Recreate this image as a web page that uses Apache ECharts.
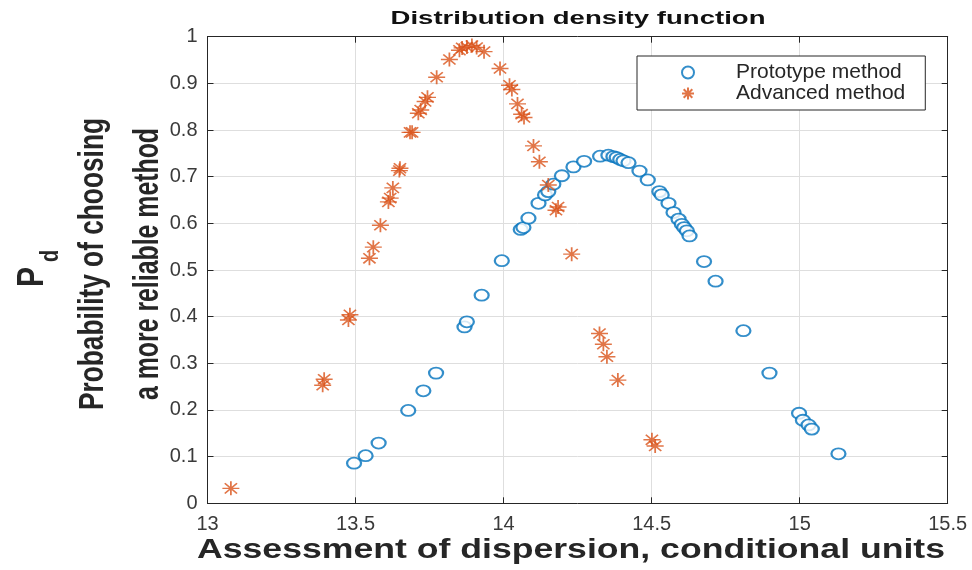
<!DOCTYPE html>
<html>
<head>
<meta charset="utf-8">
<script src="https://cdn.jsdelivr.net/npm/echarts@6/dist/echarts.min.js"></script>
<style>
html,body{margin:0;padding:0;background:#fff;}
#chart{width:972px;height:570px;}
</style>
</head>
<body>
<div id="chart"></div>
<script>
// ---- data ----
var protoX = [13.495, 13.534, 13.578, 13.678, 13.729, 13.772, 13.868, 13.876, 13.926, 13.994,
  14.058, 14.067, 14.084, 14.118, 14.140, 14.151, 14.168, 14.197, 14.236, 14.272,
  14.326, 14.354, 14.371, 14.382, 14.394, 14.405, 14.422, 14.459, 14.487, 14.526,
  14.534, 14.557, 14.574, 14.591, 14.602, 14.610, 14.619, 14.628, 14.677, 14.716,
  14.810, 14.898, 14.998, 15.011, 15.030, 15.041, 15.131];
var protoY = [0.086, 0.102, 0.129, 0.199, 0.241, 0.279, 0.378, 0.389, 0.446, 0.520,
  0.587, 0.591, 0.611, 0.643, 0.661, 0.668, 0.684, 0.702, 0.721, 0.733,
  0.744, 0.746, 0.743, 0.741, 0.737, 0.734, 0.730, 0.712, 0.693, 0.668,
  0.661, 0.643, 0.623, 0.609, 0.598, 0.591, 0.584, 0.573, 0.518, 0.476,
  0.370, 0.279, 0.193, 0.178, 0.168, 0.159, 0.106];
var advX = [13.079, 13.394, 13.389, 13.481, 13.476, 13.547, 13.560, 13.584, 13.611, 13.617,
  13.626, 13.648, 13.650, 13.691, 13.684, 13.712, 13.720, 13.735, 13.743, 13.774,
  13.817, 13.851, 13.860, 13.876, 13.893, 13.909, 13.934, 13.988, 14.020, 14.028,
  14.047, 14.061, 14.069, 14.101, 14.121, 14.151, 14.177, 14.184, 14.230, 14.324,
  14.337, 14.349, 14.386, 14.501, 14.512];
var advY = [0.032, 0.266, 0.253, 0.404, 0.393, 0.525, 0.549, 0.596, 0.646, 0.654,
  0.676, 0.713, 0.718, 0.795, 0.795, 0.836, 0.843, 0.861, 0.870, 0.913,
  0.951, 0.971, 0.976, 0.978, 0.981, 0.977, 0.968, 0.932, 0.896, 0.887,
  0.856, 0.834, 0.827, 0.766, 0.732, 0.682, 0.628, 0.635, 0.534, 0.364,
  0.341, 0.314, 0.264, 0.136, 0.123];
var seriesNames = ['Prototype method', 'Advanced method'];
var titleText = 'Distribution density function';
var xName = 'Assessment of dispersion, conditional units';
var yName1 = 'Probability of choosing';
var yName2 = 'a more reliable method';

function zip(a, b) { return a.map(function (v, i) { return [v, b[i]]; }); }
function measure(text, font) {
  var c = document.createElement('canvas').getContext('2d');
  c.font = font; return c.measureText(text).width;
}
var FF = '"Liberation Sans", Arial, sans-serif';
var titleFont = 'bold 18px ' + FF;
var xNameFont = 'bold 28px ' + FF;
var yNameFont = 'bold 26px ' + FF;

var axisColor = '#262626';
var gridColor = '#dedede';

var chart = echarts.init(document.getElementById('chart'), null, { renderer: 'canvas' });
var starPath = 'path://M0,-1 L0,1 M-1,0 L1,0 M-0.72,-0.72 L0.72,0.72 M-0.72,0.72 L0.72,-0.72';

chart.setOption({
  backgroundColor: '#fff',
  animation: false,
  grid: { left: 207.5, right: 24.3, top: 36.7, bottom: 66.7, containLabel: false },
  xAxis: [{
    type: 'value', min: 13, max: 15.5, interval: 0.5,
    axisLine: { show: true, onZero: false, lineStyle: { color: axisColor, width: 1 } },
    axisTick: { show: true, inside: true, length: 6, lineStyle: { color: axisColor } },
    axisLabel: { color: '#3a3a3a', fontSize: 20, fontFamily: FF, margin: 11 },
    splitLine: { show: true, lineStyle: { color: gridColor, width: 1 } }
  }, {
    type: 'value', position: 'top', min: 13, max: 15.5, interval: 0.5,
    axisLine: { show: true, onZero: false, lineStyle: { color: axisColor, width: 1 } },
    axisTick: { show: true, inside: true, length: 6, lineStyle: { color: axisColor } },
    axisLabel: { show: false }, splitLine: { show: false }
  }],
  yAxis: [{
    type: 'value', min: 0, max: 1, interval: 0.1,
    axisLine: { show: true, onZero: false, lineStyle: { color: axisColor, width: 1 } },
    axisTick: { show: true, inside: true, length: 6, lineStyle: { color: axisColor } },
    axisLabel: { color: '#3a3a3a', fontSize: 20, fontFamily: FF, margin: 10 },
    splitLine: { show: true, lineStyle: { color: gridColor, width: 1 } }
  }, {
    type: 'value', position: 'right', min: 0, max: 1, interval: 0.1,
    axisLine: { show: true, onZero: false, lineStyle: { color: axisColor, width: 1 } },
    axisTick: { show: true, inside: true, length: 6, lineStyle: { color: axisColor } },
    axisLabel: { show: false }, splitLine: { show: false }
  }],
  legend: {
    orient: 'vertical', left: 637, top: 56,
    data: seriesNames,
    itemWidth: 86, itemHeight: 12, itemGap: 0,
    padding: [6, 20, 6, 44],
    backgroundColor: '#fff', borderColor: axisColor, borderWidth: 1,
    textStyle: { color: '#262626', fontSize: 21, fontFamily: FF, lineHeight: 20 }
  },
  series: [{
    name: seriesNames[0], type: 'scatter',
    data: zip(protoX, protoY),
    symbol: 'emptyCircle', symbolSize: [14, 11],
    itemStyle: { color: '#0072BD', borderColor: '#0072BD', borderWidth: 1.4 }
  }, {
    name: seriesNames[1], type: 'scatter',
    data: zip(advX, advY),
    symbol: starPath, symbolSize: [17, 14],
    itemStyle: { color: 'rgba(0,0,0,0)', borderColor: '#D95319', borderWidth: 1.6 }
  }],
  graphic: [{
    type: 'text', x: 578, y: 19.5,
    scaleX: 375 / measure(titleText, titleFont),
    style: { text: titleText, font: titleFont, fill: '#111', textAlign: 'center', textVerticalAlign: 'middle' }
  }, {
    type: 'text', x: 571, y: 550,
    scaleX: 748 / measure(xName, xNameFont),
    style: { text: xName, font: xNameFont, fill: '#262626', textAlign: 'center', textVerticalAlign: 'middle' }
  }, {
    type: 'text', x: 93, y: 264, rotation: Math.PI / 2,
    scaleX: 292 / measure(yName1, yNameFont), scaleY: 1.35,
    style: { text: yName1, font: yNameFont, fill: '#262626', textAlign: 'center', textVerticalAlign: 'middle' }
  }, {
    type: 'text', x: 148, y: 264, rotation: Math.PI / 2,
    scaleX: 272 / measure(yName2, yNameFont), scaleY: 1.35,
    style: { text: yName2, font: yNameFont, fill: '#262626', textAlign: 'center', textVerticalAlign: 'middle' }
  }, {
    type: 'text', x: 33, y: 277, rotation: Math.PI / 2, scaleY: 1.25,
    style: { text: 'P', font: 'bold 30px ' + FF, fill: '#262626', textAlign: 'center', textVerticalAlign: 'middle' }
  }, {
    type: 'text', x: 51, y: 256, rotation: Math.PI / 2, scaleY: 1.25,
    style: { text: 'd', font: 'bold 20px ' + FF, fill: '#262626', textAlign: 'center', textVerticalAlign: 'middle' }
  }]
});
</script>
</body>
</html>
